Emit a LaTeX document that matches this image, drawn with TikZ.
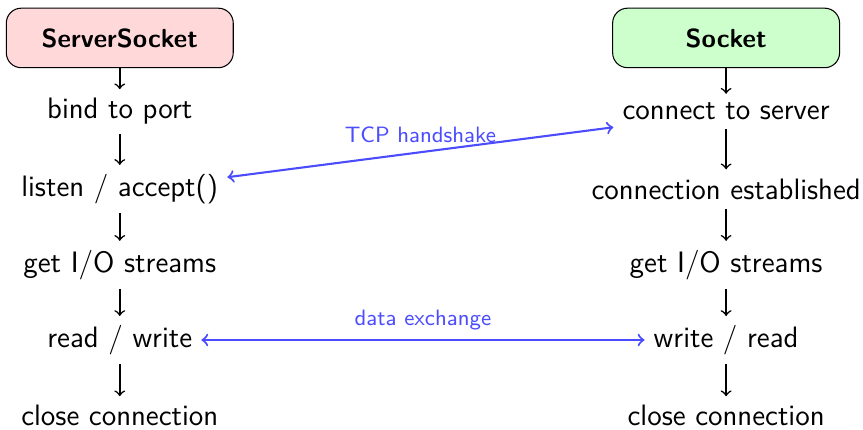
\documentclass[tikz,border=0pt]{standalone}
\usepackage{tikz}
\usetikzlibrary{shapes,arrows,positioning}

\begin{document}
\begin{tikzpicture}
  [
    Head/.style={rectangle, rounded corners=2mm, draw=black, font=\sffamily\bfseries, minimum width=3.05cm, minimum height=8mm},
    Red/.style={Head, fill=red!15},
    Green/.style={Head, fill=green!20},
    Task/.style={font=\sffamily\fontsize{11.3}{13}\selectfont},
    Link/.style={<->, draw=blue!70, thick},
    Tag/.style={font=\sffamily\fontsize{8.5}{10}\selectfont, text=blue!70}
  ]
  \useasboundingbox (0,0) rectangle (11.6,-5.77);
  % Nodes
  \node[Red] (ss) at(1.61, -0.51) {ServerSocket};
  \node[Task] (sbind) at(1.61, -1.5) {bind to port};
  \node[Task] (slisten) at(1.61, -2.54) {listen / accept()};
  \node[Task] (sio) at(1.61, -3.56) {get I/O streams};
  \node[Task] (srw) at(1.61, -4.57) {read / write};
  \node[Task] (sclose) at(1.61, -5.59) {close connection};
  \node[Green] (cs) at(9.76, -0.51) {Socket};
  \node[Task] (cconn) at(9.76, -1.5) {connect to server};
  \node[Task] (cest) at(9.76, -2.54) {connection established};
  \node[Task] (cio) at(9.76, -3.56) {get I/O streams};
  \node[Task] (cwr) at(9.76, -4.57) {write / read};
  \node[Task] (cclose) at(9.76, -5.59) {close connection};
  % Lines
  \path [->, draw, semithick] (ss) -- (sbind);
  \path [->, draw, semithick] (sbind) -- (slisten);
  \path [->, draw, semithick] (slisten) -- (sio);
  \path [->, draw, semithick] (sio) -- (srw);
  \path [->, draw, semithick] (srw) -- (sclose);
  \path [->, draw, semithick] (cs) -- (cconn);
  \path [->, draw, semithick] (cconn) -- (cest);
  \path [->, draw, semithick] (cest) -- (cio);
  \path [->, draw, semithick] (cio) -- (cwr);
  \path [->, draw, semithick] (cwr) -- (cclose);
  \path [Link] ([yshift=4.5pt]slisten.east) -- node[Tag, above] {TCP handshake} ([yshift=-6pt]cconn.west);
  \path [Link] (srw.east) -- node[Tag, above] {data exchange} (cwr.west);
\end{tikzpicture}
\end{document}
